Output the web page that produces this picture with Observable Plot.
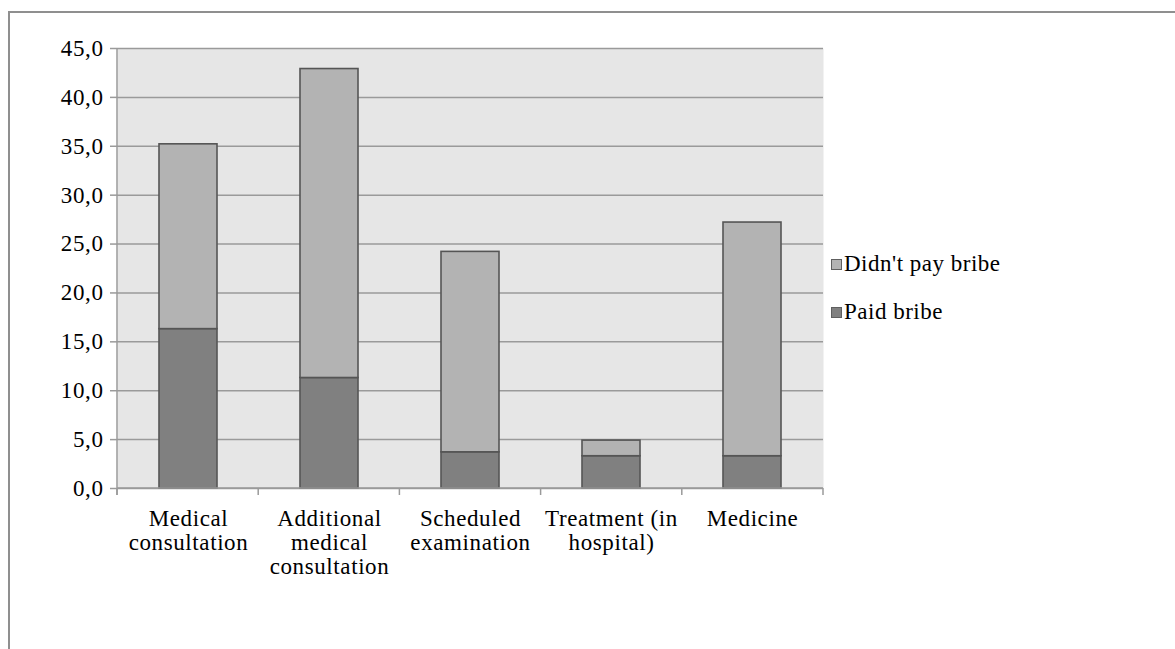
<!DOCTYPE html>
<html>
<head>
<meta charset="utf-8">
<script src="https://cdn.jsdelivr.net/npm/d3@7"></script>
<script src="https://cdn.jsdelivr.net/npm/@observablehq/plot@0.6"></script>
<style>
  html, body { margin: 0; padding: 0; background: #fff; overflow: hidden; }
  #wrap { position: relative; width: 1175px; height: 649px; overflow: hidden; }
  #border { position: absolute; left: 8px; top: 11px; width: 1200px; height: 700px;
            border: 2px solid #8f8f8f; box-sizing: border-box; pointer-events: none; }
  #chart { position: absolute; left: 0; top: 0; }
  #legend { position: absolute; left: 831px; top: 252px; font-family: "Liberation Serif", serif;
            font-size: 23px; letter-spacing: 0.5px; color: #000; }
  .item { display: flex; align-items: center; height: 24px; margin-bottom: 24px; }
  .sw { width: 9px; height: 9px; border: 1px solid #5f5f5f; margin-right: 2px; }
  #chart svg text { font-family: "Liberation Serif", serif; letter-spacing: 0.6px; }
</style>
</head>
<body>
<div id="wrap">
  <div id="border"></div>
  <div id="chart"></div>
  <div id="legend"></div>
</div>
<script>
// Services where patients were asked about informal payments (%)
const categories = [
  "Medical consultation",
  "Additional medical consultation",
  "Scheduled examination",
  "Treatment (in hospital)",
  "Medicine"
];
const categoryLabels = [
  "Medical\nconsultation",
  "Additional\nmedical\nconsultation",
  "Scheduled\nexamination",
  "Treatment (in\nhospital)",
  "Medicine"
];
const seriesNames = ["Paid bribe", "Didn't pay bribe"];
const paidBribe = [16.3, 11.3, 3.7, 3.3, 3.3];
const didntPayBribe = [18.9, 31.6, 20.5, 1.6, 23.9];
const yTicks = [0, 5, 10, 15, 20, 25, 30, 35, 40, 45];
const seriesColors = ["#808080", "#b3b3b3"];

const rows = [];
categories.forEach((c, i) => {
  rows.push({category: c, series: seriesNames[0], value: paidBribe[i]});
  rows.push({category: c, series: seriesNames[1], value: didntPayBribe[i]});
});

const labelOf = new Map(categories.map((c, i) => [c, categoryLabels[i]]));
const gridColor = "#9a9a9a";

// Left axis line and category boundary ticks along the bottom
function frameAxes(index, scales, values, dimensions) {
  const {width, height, marginLeft, marginRight, marginTop, marginBottom} = dimensions;
  const x0 = marginLeft, x1 = width - marginRight, y0 = marginTop, y1 = height - marginBottom;
  const g = d3.create("svg:g").attr("stroke", gridColor).attr("stroke-width", 1.5);
  g.append("line").attr("x1", x0).attr("x2", x0).attr("y1", y0).attr("y2", y1 + 7);
  g.append("line").attr("x1", x0).attr("x2", x1).attr("y1", y1).attr("y2", y1);
  const step = (x1 - x0) / categories.length;
  for (let i = 0; i <= categories.length; ++i) {
    const x = x0 + i * step;
    g.append("line").attr("x1", x).attr("x2", x).attr("y1", y1).attr("y2", y1 + 7);
  }
  return g.node();
}

const chart = Plot.plot({
  width: 1175,
  height: 649,
  marginLeft: 117,
  marginRight: 352,
  marginTop: 48,
  marginBottom: 161,
  style: {fontFamily: "Liberation Serif, serif", fontSize: "23px", color: "#000", background: "transparent"},
  x: {domain: categories, paddingInner: 0.59, paddingOuter: 0.295, label: null},
  y: {domain: [0, 45], label: null},
  color: {domain: seriesNames, range: seriesColors},
  marks: [
    Plot.frame({fill: "#e6e6e6", stroke: null}),
    Plot.ruleY(yTicks, {stroke: gridColor, strokeWidth: 1.5}),
    Plot.axisY({ticks: yTicks, tickSize: 7, tickPadding: 7, stroke: gridColor, strokeWidth: 1.5,
                tickFormat: d => d.toFixed(1).replace(".", ","), label: null}),
    Plot.axisX({tickSize: 0, tickPadding: 20, lineHeight: 1.05, tickFormat: d => labelOf.get(d), label: null}),
    Plot.barY(rows, {x: "category", y: "value", fill: "series", order: seriesNames,
                     stroke: "#555555", strokeWidth: 1.6}),
    frameAxes
  ]
});
document.getElementById("chart").appendChild(chart);

// Legend, top entry first
const legend = d3.select("#legend");
[1, 0].forEach(i => {
  const item = legend.append("div").attr("class", "item");
  item.append("div").attr("class", "sw").style("background", seriesColors[i]);
  item.append("span").text(seriesNames[i]);
});
</script>
</body>
</html>
